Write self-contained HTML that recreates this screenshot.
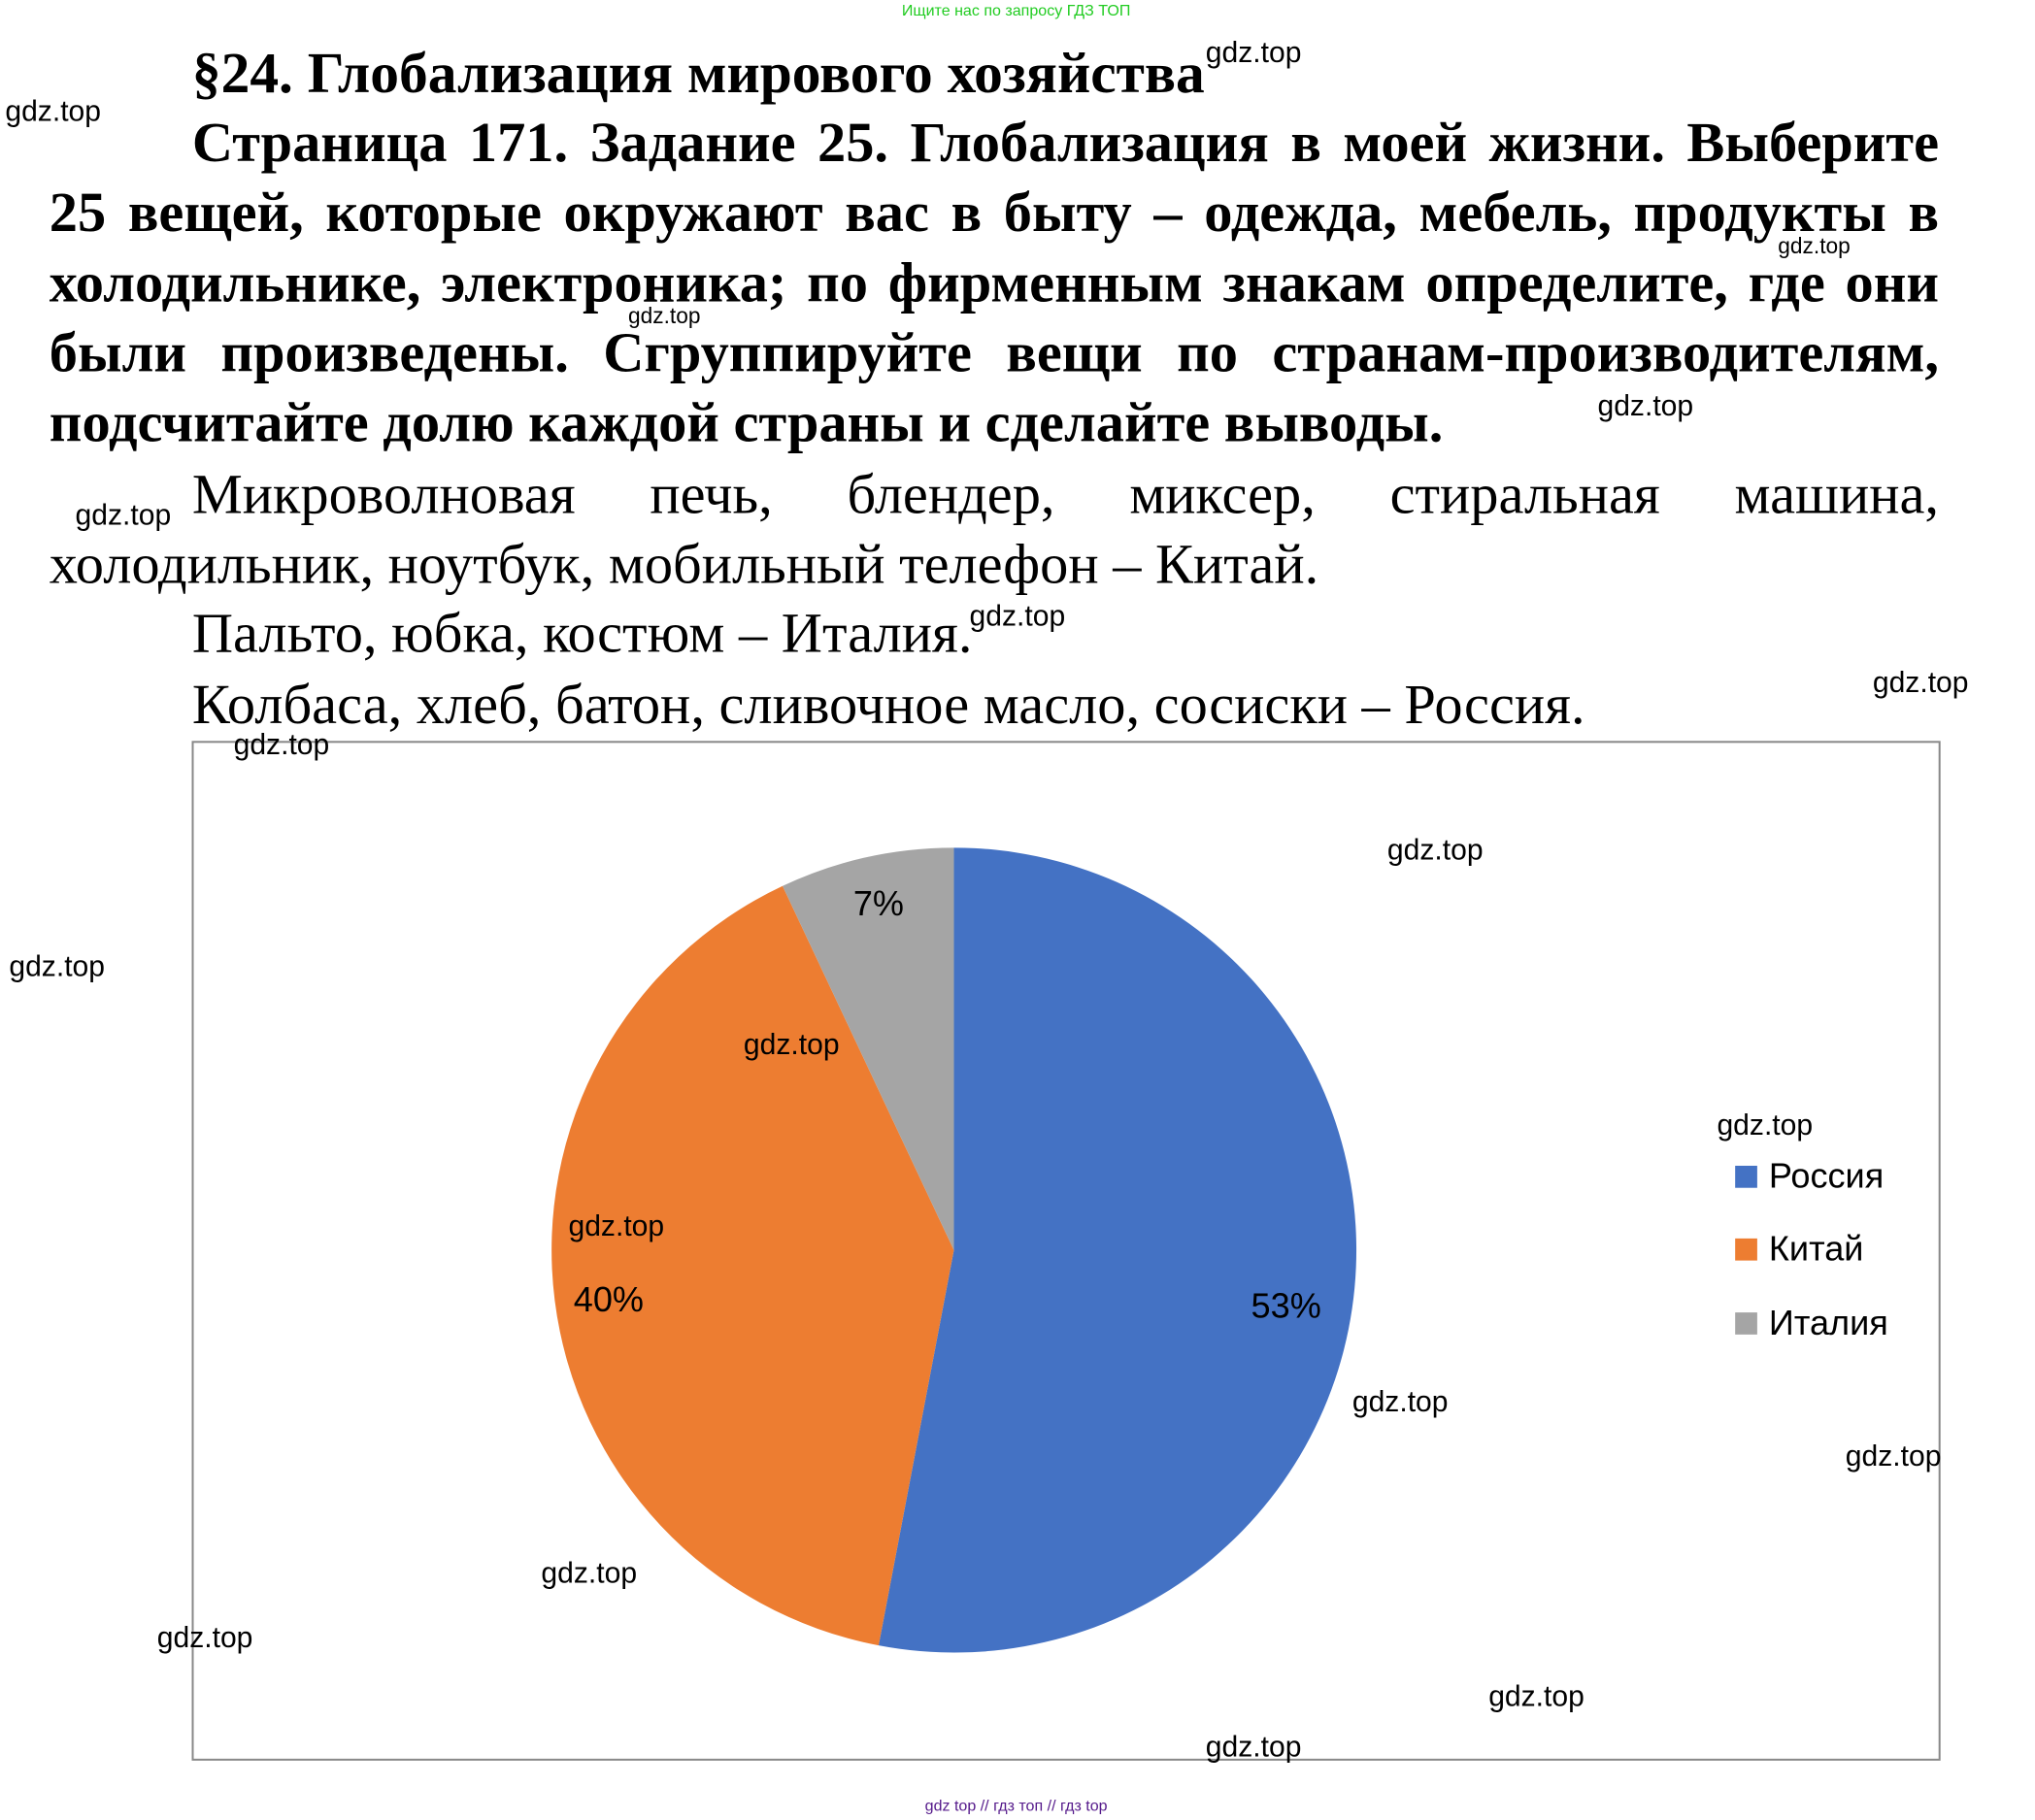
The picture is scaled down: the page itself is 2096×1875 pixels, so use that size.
<!DOCTYPE html>
<html><head><meta charset="utf-8"><style>
html,body{margin:0;padding:0;background:#fff;}
body{width:2096px;height:1875px;overflow:hidden;position:relative;}
#w{position:absolute;left:0;top:0;width:1560px;height:1395px;transform:scale(1.3367,1.3374);transform-origin:0 0;}
.t{position:absolute;font-family:"Liberation Serif",serif;font-size:43.7px;white-space:nowrap;line-height:54px;color:#000;}
.b{font-weight:bold;}
.j{text-align:justify;text-align-last:justify;}
.g{position:absolute;font-family:"Liberation Sans",sans-serif;font-size:22.5px;color:#000;white-space:nowrap;line-height:1;}
.s{font-size:17px;}
</style></head><body><div id="w">
<div class="g" style="left:0;width:1566px;text-align:center;top:2px;font-size:12px;color:#22cc22">Ищите нас по запросу ГДЗ ТОП</div>
<div class="t b" style="left:148px;top:29px;font-size:44.5px">§24. Глобализация мирового хозяйства</div>
<div class="t b j" style="left:148px;top:83px;width:1346px">Страница 171. Задание 25. Глобализация в моей жизни. Выберите</div>
<div class="t b j" style="left:38px;top:137px;width:1456px">25 вещей, которые окружают вас в быту – одежда, мебель, продукты в</div>
<div class="t b j" style="left:38px;top:191px;width:1456px">холодильнике, электроника; по фирменным знакам определите, где они</div>
<div class="t b j" style="left:38px;top:245px;width:1456px">были произведены. Сгруппируйте вещи по странам-производителям,</div>
<div class="t b" style="left:38px;top:299px">подсчитайте долю каждой страны и сделайте выводы.</div>
<div class="t j" style="left:148px;top:354px;width:1346px">Микроволновая печь, блендер, миксер, стиральная машина,</div>
<div class="t" style="left:38px;top:408px">холодильник, ноутбук, мобильный телефон – Китай.</div>
<div class="t" style="left:148px;top:461px">Пальто, юбка, костюм – Италия.</div>
<div class="t" style="left:148px;top:516px">Колбаса, хлеб, батон, сливочное масло, сосиски – Россия.</div>
<svg style="position:absolute;left:0;top:0" width="1560" height="1395" viewBox="0 0 1560 1395">
<rect x="148.5" y="571.5" width="1346" height="784" fill="none" stroke="#888" stroke-width="1.5"/>
<path d="M735,963 L735,653 A310,310 0 1,1 677.0,1267.5 Z" fill="#4472c4"/>
<path d="M735,963 L677.0,1267.5 A310,310 0 0,1 603.0,682.5 Z" fill="#ed7d31"/>
<path d="M735,963 L603.0,682.5 A310,310 0 0,1 735,653 Z" fill="#a5a5a5"/>
<g font-family="Liberation Sans,sans-serif" font-size="27" fill="#000">
<text x="677" y="705" text-anchor="middle">7%</text>
<text x="991" y="1015" text-anchor="middle">53%</text>
<text x="469" y="1010" text-anchor="middle">40%</text>
<rect x="1337" y="898" width="17" height="17" fill="#4472c4"/>
<rect x="1337" y="954" width="17" height="17" fill="#ed7d31"/>
<rect x="1337" y="1011" width="17" height="17" fill="#a5a5a5"/>
<text x="1363" y="915">Россия</text>
<text x="1363" y="971">Китай</text>
<text x="1363" y="1028">Италия</text>
</g>
</svg>
<div class="g" style="left:929px;top:30px">gdz.top</div>
<div class="g" style="left:4px;top:75px">gdz.top</div>
<div class="g s" style="left:1370px;top:181px">gdz.top</div>
<div class="g s" style="left:484px;top:235px">gdz.top</div>
<div class="g" style="left:1231px;top:302px">gdz.top</div>
<div class="g" style="left:58px;top:386px">gdz.top</div>
<div class="g" style="left:747px;top:464px">gdz.top</div>
<div class="g" style="left:1443px;top:515px">gdz.top</div>
<div class="g" style="left:180px;top:563px">gdz.top</div>
<div class="g" style="left:1069px;top:644px">gdz.top</div>
<div class="g" style="left:7px;top:734px">gdz.top</div>
<div class="g" style="left:573px;top:794px">gdz.top</div>
<div class="g" style="left:1323px;top:856px">gdz.top</div>
<div class="g" style="left:438px;top:934px">gdz.top</div>
<div class="g" style="left:1042px;top:1069px">gdz.top</div>
<div class="g" style="left:1422px;top:1111px">gdz.top</div>
<div class="g" style="left:417px;top:1201px">gdz.top</div>
<div class="g" style="left:121px;top:1251px">gdz.top</div>
<div class="g" style="left:1147px;top:1296px">gdz.top</div>
<div class="g" style="left:929px;top:1335px">gdz.top</div>
<div class="g" style="left:0;width:1566px;text-align:center;top:1385px;font-size:12px;color:#551a8b">gdz top // гдз топ // гдз top</div>
</div></body></html>
